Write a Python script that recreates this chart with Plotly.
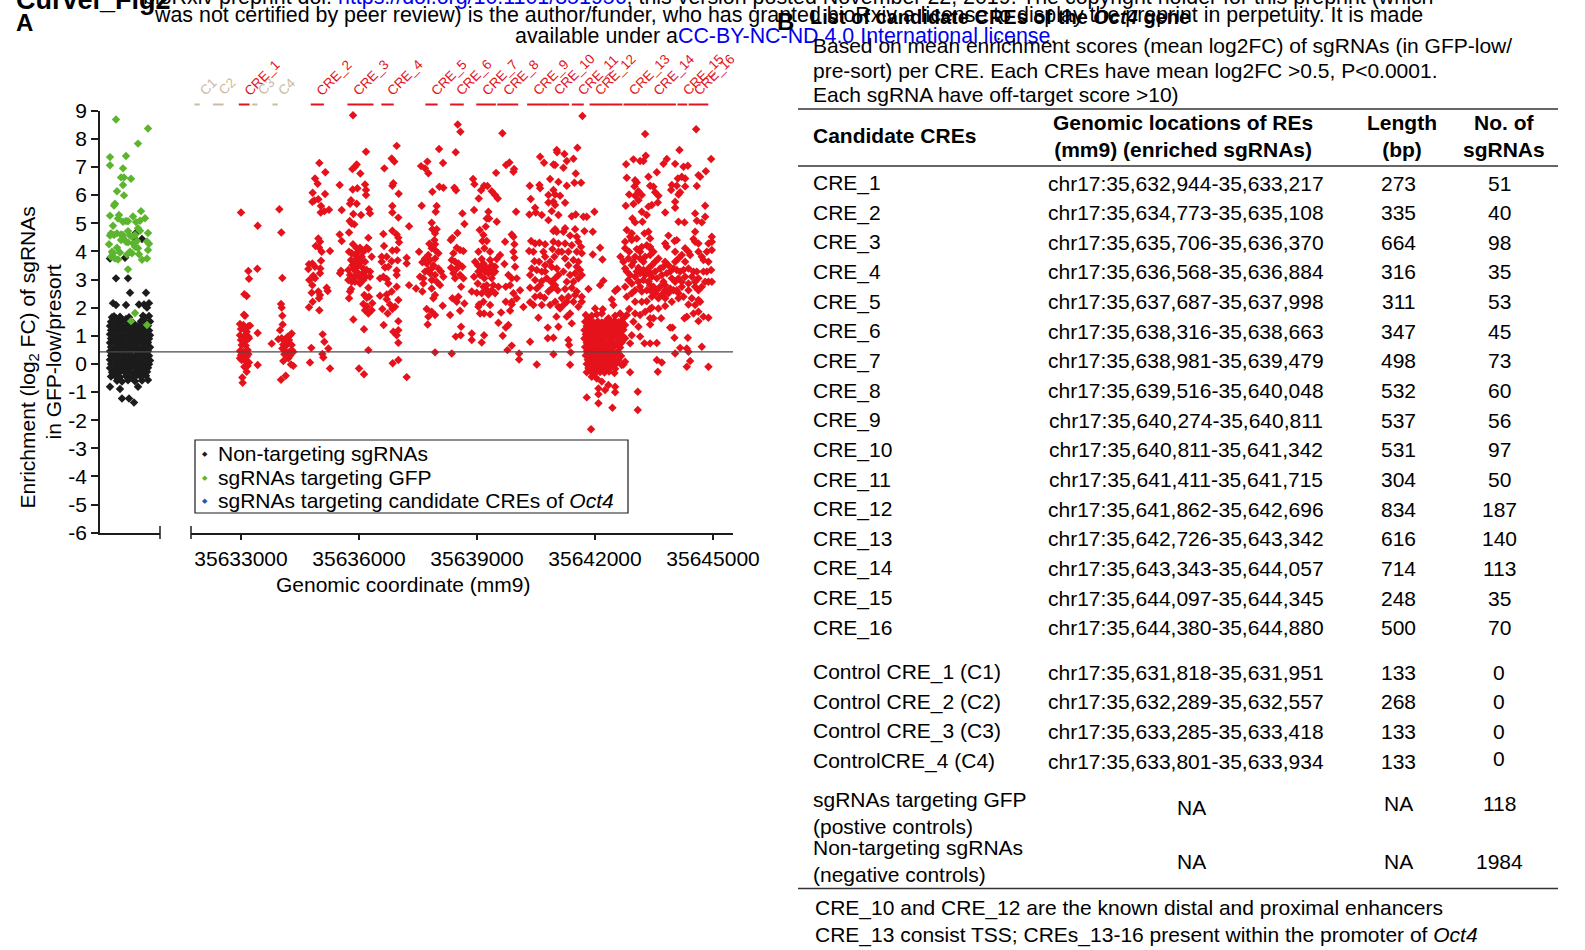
import plotly.graph_objects as go

# ------------------------------------------------------------------ data
ytick_vals = [-6, -5, -4, -3, -2, -1, 0, 1, 2, 3, 4, 5, 6, 7, 8, 9]
xtick_vals = [35633000, 35636000, 35639000, 35642000, 35645000]
genomic_range = [35631729, 35645508]
baseline_fc = 0.43

cre_names = ["CRE_1", "CRE_2", "CRE_3", "CRE_4", "CRE_5", "CRE_6", "CRE_7", "CRE_8",
             "CRE_9", "CRE_10", "CRE_11", "CRE_12", "CRE_13", "CRE_14", "CRE_15", "CRE_16"]
cre_locs = ["chr17:35,632,944-35,633,217", "chr17:35,634,773-35,635,108",
            "chr17:35,635,706-35,636,370", "chr17:35,636,568-35,636,884",
            "chr17:35,637,687-35,637,998", "chr17:35,638,316-35,638,663",
            "chr17:35,638,981-35,639,479", "chr17:35,639,516-35,640,048",
            "chr17:35,640,274-35,640,811", "chr17:35,640,811-35,641,342",
            "chr17:35,641,411-35,641,715", "chr17:35,641,862-35,642,696",
            "chr17:35,642,726-35,643,342", "chr17:35,643,343-35,644,057",
            "chr17:35,644,097-35,644,345", "chr17:35,644,380-35,644,880"]
cre_lengths = [273, 335, 664, 316, 311, 347, 498, 532, 537, 531, 304, 834, 616, 714, 248, 500]
cre_counts = [51, 40, 98, 35, 53, 45, 73, 60, 56, 97, 50, 187, 140, 113, 35, 70]

ctrl_names = ["Control CRE_1 (C1)", "Control CRE_2 (C2)", "Control CRE_3 (C3)", "ControlCRE_4 (C4)"]
ctrl_short = ["C1", "C2", "C3", "C4"]
ctrl_locs = ["chr17:35,631,818-35,631,951", "chr17:35,632,289-35,632,557",
             "chr17:35,633,285-35,633,418", "chr17:35,633,801-35,633,934"]
ctrl_lengths = [133, 268, 133, 133]
ctrl_counts = [0, 0, 0, 0]

other_names = ["sgRNAs targeting GFP<br>(postive controls)", "Non-targeting sgRNAs<br>(negative controls)"]
other_locs = ["NA", "NA"]
other_lengths = ["NA", "NA"]
other_counts = [118, 1984]

# control strip: (jitter position, log2FC)
gfp_pts = [(16, 8.69), (48, 8.37), (38, 7.83), (10, 7.35), (26, 7.39), (10, 7.06), (23, 6.95),
           (21, 6.63), (24, 6.63), (31, 6.58), (23, 6.36), (17, 6.14), (24, 5.99), (15, 5.69),
           (14, 5.63), (41, 5.43), (10, 5.27), (19, 5.29), (33, 5.24), (45, 5.18), (18, 5.17),
           (26, 5.08), (28, 5.07), (23, 5.05), (13, 4.91), (40, 5.09), (36, 5.04), (11, 4.64),
           (17, 4.64), (28, 4.72), (38, 4.82), (40, 4.73), (30, 4.56), (48, 4.65), (10, 4.56),
           (14, 4.58), (21, 4.60), (23, 4.48), (32, 4.52), (9, 4.25), (21, 4.40), (26, 4.34),
           (28, 4.32), (33, 4.28), (37, 4.37), (47, 4.35), (49, 4.27), (17, 4.13), (12, 3.99),
           (20, 3.96), (30, 3.99), (32, 3.93), (35, 4.16), (38, 4.11), (48, 4.05), (11, 3.81),
           (15, 3.75), (27, 3.89), (39, 3.90), (18, 3.71), (42, 3.70), (47, 3.75), (28, 3.36),
           (35, 1.81), (31, 1.52), (47, 1.38), (13, 3.93), (23, 4.58), (35, 4.58)]

nontarget_pts = [
    (36, 4.66), (42, 4.44), (34, 4.48), (10, 3.75), (25, 3.77), (16, 3.04), (28, 3.04),
    (30, 2.53), (46, 2.53), (13, 2.16), (16, 2.09), (26, 2.09), (39, 2.11), (44, 2.11),
    (49, 2.16), (47, 2.00), (43, 1.71), (29, 1.66), (14, 1.69), (10, -0.81), (20, -0.89),
    (22, -1.23), (29, -1.23), (34, -1.37), (38, -0.81), (48, -0.57),
    (12, 1.66), (16, 1.62), (20, 1.68), (26, 1.60), (45, 1.64), (49, 1.70),
    (11, 1.50), (15, 1.52), (19, 1.47), (23, 1.53), (27, 1.49), (33, 1.46), (41, 1.52), (46, 1.48), (50, 1.51),
    (10, 1.35), (14, 1.38), (18, 1.33), (22, 1.36), (26, 1.32), (30, 1.37), (35, 1.34), (39, 1.38), (44, 1.33), (48, 1.36),
    (11, 1.20), (15, 1.17), (19, 1.22), (24, 1.19), (28, 1.23), (32, 1.18), (37, 1.21), (41, 1.17), (45, 1.22), (49, 1.19),
    (10, 1.05), (14, 1.08), (18, 1.03), (22, 1.06), (26, 1.02), (31, 1.07), (35, 1.04), (39, 1.08), (43, 1.03), (47, 1.06), (50, 1.02),
    (11, 0.90), (15, 0.87), (20, 0.92), (24, 0.89), (28, 0.93), (33, 0.88), (37, 0.91), (41, 0.87), (45, 0.92), (49, 0.89),
    (10, 0.75), (14, 0.78), (18, 0.73), (22, 0.76), (27, 0.72), (31, 0.77), (35, 0.74), (40, 0.78), (44, 0.73), (48, 0.76),
    (11, 0.60), (16, 0.57), (20, 0.62), (24, 0.59), (29, 0.63), (33, 0.58), (37, 0.61), (42, 0.57), (46, 0.62), (50, 0.59),
    (10, 0.45), (14, 0.48), (18, 0.43), (23, 0.46), (27, 0.42), (31, 0.47), (36, 0.44), (40, 0.48), (44, 0.43), (48, 0.46),
    (11, 0.30), (15, 0.27), (19, 0.32), (24, 0.29), (28, 0.33), (32, 0.28), (37, 0.31), (41, 0.27), (45, 0.32), (49, 0.29),
    (10, 0.15), (14, 0.18), (18, 0.13), (22, 0.16), (26, 0.12), (31, 0.17), (35, 0.14), (39, 0.18), (43, 0.13), (47, 0.16), (50, 0.12),
    (11, 0.00), (15, -0.03), (20, 0.02), (24, -0.01), (28, 0.03), (33, -0.02), (37, 0.01), (41, -0.03), (45, 0.02), (49, -0.01),
    (10, -0.15), (14, -0.12), (18, -0.17), (22, -0.14), (27, -0.18), (31, -0.13), (36, -0.16), (40, -0.12), (44, -0.17), (48, -0.14),
    (12, -0.30), (16, -0.33), (20, -0.28), (25, -0.31), (29, -0.27), (34, -0.32), (38, -0.29), (42, -0.33), (47, -0.28),
    (11, -0.45), (15, -0.42), (20, -0.47), (26, -0.44), (31, -0.48), (36, -0.43), (41, -0.46), (46, -0.42),
    (17, -0.60), (22, -0.63), (28, -0.58), (35, -0.62), (42, -0.59)]

# CRE-targeting sgRNAs: (genomic coordinate, log2FC), grouped by region
pts_cre1 = [(35633000, 5.38), (35633424, 4.91), (35633186, 3.30), (35633415, 3.38), (35633203, 3.03),
            (35633085, 2.48), (35633144, 2.41), (35633076, 1.75), (35633102, 1.71), (35632974, 1.42),
            (35633059, 1.38), (35633186, 1.34), (35633229, 1.36), (35633000, 1.24), (35633102, 1.20),
            (35633144, 1.14), (35632974, 1.02), (35633085, 0.99), (35633186, 0.97), (35633424, 1.10),
            (35633000, 0.85), (35633102, 0.79), (35633203, 0.91), (35633017, 0.67), (35633119, 0.65),
            (35632974, 0.46), (35633059, 0.43), (35633169, 0.49), (35633000, 0.31), (35633085, 0.25),
            (35633186, 0.34), (35633017, 0.14), (35633119, 0.10), (35633203, 0.05), (35633085, -0.10),
            (35633169, -0.07), (35633424, -0.04), (35633144, -0.28), (35633034, -0.48), (35633042, -0.67),
            (35632974, 0.20), (35633144, 0.25)]
pts_c4 = [(35633975, 5.50), (35634025, 4.67), (35634051, 3.05), (35634017, 2.13), (35634034, 2.00),
          (35634051, 1.71), (35634059, 1.40), (35633992, 1.20), (35634288, 1.08), (35634246, 1.02),
          (35634186, 0.97), (35634034, 0.91), (35633949, 0.88), (35634119, 0.85), (35634220, 0.85),
          (35634076, 0.69), (35634161, 0.67), (35634288, 0.67), (35633780, 0.72), (35634288, 0.49),
          (35634119, 0.47), (35634203, 0.41), (35634331, 0.43), (35634102, 0.34), (35634246, 0.29),
          (35634076, 0.10), (35634271, -0.02), (35634331, -0.07), (35634136, -0.42), (35634017, -0.56),
          (35634203, 0.20), (35634051, 0.55)]
pts_cre2 = [(35634992, 7.14), (35634882, 6.59), (35635144, 6.81), (35634949, 6.40), (35634822, 6.08),
            (35635136, 6.04), (35634814, 5.76), (35634865, 5.81), (35634966, 5.85), (35635034, 5.61),
            (35635026, 5.38), (35635119, 5.43), (35635238, 5.48), (35634966, 4.46), (35635009, 4.34),
            (35634899, 4.19), (35634983, 4.14), (35635051, 3.99), (35635263, 4.01), (35635034, 3.67),
            (35634729, 3.54), (35634814, 3.57), (35634712, 3.37), (35634882, 3.45), (35635017, 3.39),
            (35635009, 3.22), (35634839, 3.13), (35634737, 2.98), (35634882, 3.04), (35634814, 2.80),
            (35634797, 2.53), (35634966, 2.57), (35635009, 2.45), (35635178, 2.71), (35635204, 2.59),
            (35634983, 2.33), (35634822, 2.21), (35634729, 2.01), (35634992, 1.91), (35635076, 1.05),
            (35635119, 0.79), (35634788, 0.57), (35635221, 0.55), (35635068, 0.35), (35635093, 0.23),
            (35634754, 0.05), (35635263, -0.16)]
pts_cre3 = [(35635848, 8.84), (35636178, 7.54), (35635941, 7.09), (35635899, 7.01), (35635831, 6.93),
            (35636034, 6.77), (35635509, 6.36), (35636153, 6.38), (35635839, 6.20), (35635958, 6.24),
            (35636178, 6.18), (35636178, 6.00), (35635797, 5.82), (35635771, 5.69), (35635941, 5.69),
            (35635560, 5.47), (35636255, 5.50), (35636280, 5.35), (35635856, 5.33), (35636051, 5.29),
            (35635763, 5.08), (35635814, 4.99), (35635882, 4.96), (35635746, 4.67), (35635509, 4.60),
            (35635560, 4.37), (35636238, 4.48), (35635848, 4.25), (35635746, 3.99), (35635814, 3.93),
            (35635941, 4.11), (35636026, 4.13), (35636110, 3.99), (35636195, 4.13), (35636238, 4.08),
            (35636322, 3.81), (35635797, 3.69), (35635882, 3.63), (35635966, 3.75), (35636068, 3.81),
            (35636153, 3.63), (35635543, 3.31), (35635729, 3.34), (35635856, 3.39), (35635941, 3.45),
            (35636000, 3.51), (35636110, 3.39), (35636195, 3.34), (35636280, 3.28), (35635517, 3.22),
            (35635771, 3.16), (35635882, 3.10), (35635983, 3.22), (35636068, 3.16), (35636170, 3.10),
            (35636280, 3.10), (35635729, 2.98), (35635899, 2.92), (35636026, 2.86), (35636238, 2.71),
            (35635797, 2.66), (35635771, 2.57), (35635746, 2.33), (35636136, 2.45), (35636195, 2.35),
            (35636255, 2.39), (35636110, 2.13), (35636204, 2.04), (35636339, 2.16), (35636153, 1.91),
            (35636238, 1.79), (35636322, 1.91), (35635856, 1.58), (35636127, 1.23), (35636238, 0.49),
            (35636000, -0.16), (35636127, -0.37), (35635899, 3.87), (35635983, 3.99), (35636051, 3.63),
            (35635831, 3.51), (35635916, 3.28), (35636136, 3.28), (35636026, 3.04), (35636110, 2.98),
            (35635814, 2.92)]
pts_cre4 = [(35636958, 7.75), (35636831, 7.30), (35636899, 7.19), (35636644, 6.95), (35636873, 6.42),
            (35636848, 6.33), (35637009, 6.05), (35636848, 5.61), (35636848, 5.38), (35637000, 5.20),
            (35637272, 4.89), (35636848, 4.73), (35636958, 4.60), (35637000, 4.48), (35636619, 4.62),
            (35637017, 4.32), (35636636, 4.19), (35636848, 4.03), (35636958, 4.05), (35636577, 3.81),
            (35636704, 3.81), (35636831, 3.65), (35636984, 3.68), (35637212, 3.77), (35637212, 3.57),
            (35636577, 3.63), (35636661, 3.43), (35636746, 3.45), (35636958, 3.32), (35636534, 3.04),
            (35636619, 3.10), (35636704, 3.02), (35636746, 2.86), (35636958, 3.16), (35637272, 2.80),
            (35636958, 2.74), (35636534, 2.42), (35636704, 2.47), (35636831, 2.57), (35636704, 2.30),
            (35637000, 2.27), (35636594, 1.95), (35636789, 2.11), (35636848, 1.95), (35636729, 1.79),
            (35636916, 2.03), (35637000, 1.52), (35636627, 1.38), (35636873, 1.14), (35637000, 1.20),
            (35636958, 1.02), (35637000, 0.75), (35636856, 0.02), (35637000, 0.14), (35637212, -0.47)]
pts_cre5 = [(35638035, 7.64), (35638136, 7.14), (35637577, 7.03), (35637679, 6.95), (35637738, 7.19),
            (35637763, 6.78), (35637865, 6.12), (35638043, 6.30), (35638145, 6.26), (35637594, 5.62),
            (35637975, 5.61), (35637950, 5.41), (35637848, 5.02), (35637865, 4.79), (35637975, 4.79),
            (35637933, 4.64), (35637789, 4.27), (35637916, 4.40), (35637933, 4.25), (35637526, 3.99),
            (35637848, 4.11), (35637933, 4.05), (35637679, 3.75), (35637806, 3.69), (35637933, 3.75),
            (35637611, 3.61), (35637721, 3.57), (35637890, 3.51), (35637848, 3.39), (35637763, 3.34),
            (35637679, 3.28), (35637806, 3.22), (35637551, 3.10), (35637636, 3.04), (35637933, 3.16),
            (35638085, 3.28), (35638145, 3.10), (35637848, 2.98), (35637975, 2.92), (35637450, 2.68),
            (35637611, 2.57), (35637848, 2.68), (35637933, 2.45), (35637890, 2.33), (35637721, 1.95),
            (35637848, 1.85), (35637763, 1.68), (35637933, 1.74), (35637746, 1.40), (35638128, 2.07),
            (35637933, 0.41), (35638018, 3.93), (35637763, 3.87), (35638018, 3.39), (35637636, 2.86),
            (35638060, 2.80)]
pts_cre6 = [(35638510, 8.51), (35638578, 8.25), (35638459, 7.52), (35638425, 6.26), (35638468, 6.17),
            (35638629, 5.35), (35638680, 4.97), (35638502, 4.65), (35638374, 4.48), (35638332, 4.40),
            (35638485, 4.13), (35638569, 4.05), (35638654, 4.01), (35638400, 3.93), (35638358, 3.69),
            (35638442, 3.63), (35638527, 3.57), (35638341, 3.42), (35638485, 3.39), (35638629, 3.45),
            (35638400, 3.22), (35638569, 3.16), (35638654, 3.04), (35638442, 3.04), (35638595, 2.74),
            (35638374, 2.33), (35638527, 2.39), (35638485, 2.21), (35638680, 2.15), (35638569, 1.89),
            (35638315, 1.74), (35638595, 1.32), (35638586, 1.02), (35638459, 0.97), (35638358, 0.37)]
pts_cre7 = [(35638900, 6.57), (35638934, 6.39), (35639180, 6.33), (35639265, 6.32), (35639103, 6.17),
            (35639375, 6.14), (35639459, 6.00), (35639527, 5.88), (35639044, 5.88), (35638925, 5.47),
            (35639290, 5.41), (35639248, 5.17), (35639307, 5.17), (35639502, 5.05), (35639069, 4.76),
            (35639222, 4.88), (35639163, 4.58), (35639137, 4.37), (35639248, 4.37), (35639036, 3.99),
            (35639188, 4.11), (35639332, 3.99), (35639120, 3.73), (35639332, 3.69), (35639502, 3.73),
            (35639587, 3.87), (35639019, 3.51), (35639120, 3.39), (35639248, 3.42), (35639375, 3.51),
            (35639290, 3.22), (35639459, 3.28), (35639078, 3.16), (35639188, 3.04), (35639375, 3.04),
            (35638925, 3.10), (35639019, 2.86), (35639248, 2.80), (35639417, 2.80), (35639544, 2.74),
            (35638866, 2.57), (35638993, 2.53), (35639120, 2.51), (35639290, 2.47), (35639459, 2.51),
            (35639052, 2.11), (35639163, 2.21), (35639332, 2.09), (35639078, 1.79), (35639180, 1.79),
            (35639332, 1.76), (35639036, 2.03), (35639544, 1.46), (35638866, 1.08), (35638866, 0.85),
            (35639120, 0.76), (35639180, 1.02), (35639205, 3.28), (35639332, 3.34), (35639163, 3.57),
            (35639417, 3.22), (35639248, 2.62), (35639036, 3.28), (35639459, 3.45), (35639163, 2.74),
            (35639375, 2.62), (35638951, 3.63)]
pts_cre8 = [(35639646, 8.20), (35639485, 6.79), (35639739, 7.07), (35639824, 7.16), (35639943, 6.93),
            (35639926, 6.83), (35639993, 5.41), (35639714, 4.34), (35639883, 4.60), (35639926, 4.52),
            (35639951, 4.25), (35639926, 3.99), (35639951, 3.77), (35639697, 3.55), (35639968, 3.45),
            (35639798, 3.16), (35639883, 3.04), (35640010, 3.04), (35639731, 2.74), (35639841, 2.80),
            (35640095, 2.62), (35639926, 2.51), (35640010, 2.33), (35639731, 2.21), (35639883, 2.21),
            (35639883, 2.11), (35640180, 2.02), (35639841, 1.89), (35639612, 1.83), (35639798, 1.38),
            (35639731, 1.29), (35639654, 1.00), (35639883, 0.65), (35639773, 0.49), (35640070, 0.37),
            (35640070, 0.16)]
pts_cre9 = [(35640604, 7.36), (35640705, 7.15), (35640943, 7.09), (35640985, 7.07), (35641036, 7.52),
            (35641027, 7.60), (35640341, 6.33), (35640587, 6.36), (35640604, 6.24), (35640858, 6.57),
            (35640943, 6.18), (35641070, 6.47), (35640816, 6.00), (35640985, 6.02), (35640943, 5.76),
            (35640816, 5.74), (35640366, 5.86), (35640477, 5.55), (35640494, 5.38), (35640332, 5.31),
            (35640646, 5.29), (35640900, 5.43), (35640985, 5.65), (35640816, 5.11), (35641070, 5.29),
            (35640985, 4.79), (35641027, 4.70), (35640943, 4.72), (35640375, 4.37), (35640477, 4.28),
            (35640587, 4.31), (35640731, 4.25), (35640943, 4.34), (35641070, 4.28), (35640324, 4.01),
            (35640460, 3.65), (35640578, 3.63), (35640731, 3.81), (35640917, 4.08), (35640968, 3.81),
            (35641070, 3.99), (35640392, 3.39), (35640519, 3.34), (35640646, 3.28), (35640349, 3.16),
            (35640731, 3.51), (35640900, 3.44), (35640773, 3.04), (35640883, 2.92), (35640985, 3.04),
            (35641070, 3.16), (35640477, 2.98), (35640646, 2.94), (35640985, 2.80), (35641053, 2.62),
            (35640519, 2.68), (35640349, 2.71), (35640604, 2.42), (35640714, 2.35), (35640900, 2.68),
            (35640349, 2.19), (35640434, 2.09), (35640646, 2.09), (35640858, 2.09), (35640985, 2.21),
            (35641070, 2.03), (35640561, 1.64), (35641019, 1.68), (35640799, 1.29), (35640799, 0.91),
            (35640943, 0.93), (35640349, 0.79), (35640519, -0.02), (35640943, 0.34), (35641070, 1.32),
            (35640434, 3.99), (35640731, 3.28), (35640858, 3.63), (35640604, 2.80), (35640816, 2.57),
            (35640477, 2.39), (35641027, 3.39), (35640688, 3.99)]
pts_cre10 = [(35641680, 8.81), (35641553, 7.68), (35641222, 7.46), (35641451, 7.29), (35641282, 7.21),
             (35641197, 6.97), (35641510, 6.77), (35641477, 6.44), (35641646, 6.44), (35641282, 6.33),
             (35641112, 5.98), (35641239, 5.73), (35641510, 5.31), (35641409, 5.25), (35641705, 5.23),
             (35641790, 5.23), (35641985, 5.41), (35641239, 4.82), (35641197, 4.70), (35641366, 4.56),
             (35641494, 4.79), (35641536, 4.52), (35641731, 4.72), (35641943, 4.70), (35641239, 4.28),
             (35641578, 4.34), (35641646, 4.16), (35642129, 4.13), (35641324, 3.99), (35641536, 3.99),
             (35641663, 3.93), (35641943, 3.89), (35642189, 3.71), (35641239, 3.75), (35641451, 3.69),
             (35641578, 3.63), (35641324, 3.51), (35641536, 3.45), (35641621, 3.34), (35641197, 3.28),
             (35641366, 3.16), (35641494, 3.22), (35641578, 3.04), (35641282, 2.92), (35641239, 2.66),
             (35641409, 2.71), (35641536, 2.57), (35641833, 2.66), (35642129, 2.80), (35642214, 2.96),
             (35641155, 2.33), (35641324, 2.39), (35641494, 2.45), (35641663, 2.39), (35641197, 2.09),
             (35641451, 2.21), (35641663, 2.21), (35641112, 1.97), (35641366, 1.79), (35641409, 1.44),
             (35641324, 0.85), (35641341, 0.67), (35641383, 0.41), (35641366, -0.03), (35641282, 1.68),
             (35641409, 4.22), (35641155, 3.99), (35641451, 2.92), (35641663, 3.16), (35641282, 2.21),
             (35641578, 2.03)]
pts_cre12_low = [
    (35642570, 2.66), (35642511, 2.59), (35642426, 2.29), (35642468, 2.09), (35642197, 1.94),
    (35642002, 1.97), (35641765, 1.74), (35641833, 1.62), (35641917, 1.71), (35642045, 1.76),
    (35642172, 1.79), (35642341, 1.62), (35642511, 1.71), (35642638, 1.79), (35642723, 1.62),
    (35642807, 1.74),
    (35641748, 1.50), (35641850, 1.53), (35641960, 1.48), (35642070, 1.51), (35642172, 1.47),
    (35642273, 1.52), (35642384, 1.49), (35642494, 1.53), (35642595, 1.48), (35642680, 1.51),
    (35641790, 1.35), (35641900, 1.33), (35642002, 1.37), (35642112, 1.34), (35642214, 1.36),
    (35642324, 1.32), (35642426, 1.37), (35642536, 1.34), (35642638, 1.36),
    (35641731, 1.20), (35641833, 1.22), (35641934, 1.18), (35642045, 1.21), (35642155, 1.17),
    (35642256, 1.22), (35642358, 1.19), (35642468, 1.23), (35642579, 1.18), (35642723, 1.21),
    (35641765, 1.05), (35641875, 1.03), (35641985, 1.07), (35642087, 1.04), (35642189, 1.06),
    (35642299, 1.02), (35642409, 1.07), (35642511, 1.04), (35642638, 1.06),
    (35641731, 0.90), (35641833, 0.92), (35641934, 0.88), (35642045, 0.91), (35642155, 0.87),
    (35642256, 0.92), (35642358, 0.89), (35642468, 0.93), (35642595, 0.88), (35642765, 0.91),
    (35641790, 0.75), (35641900, 0.73), (35642002, 0.77), (35642112, 0.74), (35642214, 0.76),
    (35642324, 0.72), (35642426, 0.77), (35642553, 0.74), (35642680, 0.76),
    (35641748, 0.60), (35641850, 0.62), (35641960, 0.58), (35642070, 0.61), (35642172, 0.57),
    (35642273, 0.62), (35642384, 0.59), (35642494, 0.63), (35642638, 0.58),
    (35641790, 0.45), (35641900, 0.43), (35642002, 0.47), (35642112, 0.44), (35642214, 0.46),
    (35642324, 0.42), (35642443, 0.47), (35642579, 0.44),
    (35641765, 0.30), (35641875, 0.32), (35641985, 0.28), (35642087, 0.31), (35642189, 0.27),
    (35642299, 0.32), (35642409, 0.29), (35642528, 0.33), (35642663, 0.28),
    (35641816, 0.15), (35641917, 0.13), (35642019, 0.17), (35642129, 0.14), (35642240, 0.16),
    (35642341, 0.12), (35642468, 0.17), (35642595, 0.14),
    (35641790, 0.00), (35641900, 0.02), (35642002, -0.02), (35642104, 0.01), (35642214, -0.03),
    (35642324, 0.02), (35642426, -0.01), (35642553, 0.03), (35642723, -0.02),
    (35641833, -0.15), (35641934, -0.13), (35642045, -0.17), (35642155, -0.14), (35642256, -0.16),
    (35642384, -0.12), (35642511, -0.17),
    (35641790, -0.30), (35641900, -0.28), (35642002, -0.32), (35642129, -0.29), (35642240, -0.31),
    (35642358, -0.27), (35642494, -0.32), (35642892, -0.30),
    (35641917, -0.46), (35642045, -0.52), (35642172, -0.63), (35642341, -0.75), (35642511, -0.81),
    (35642087, -0.87), (35642256, -0.93), (35641790, -1.19), (35642087, -1.08), (35642087, -1.40),
    (35642511, -1.01), (35642443, -1.56), (35641900, -2.32), (35642680, -0.04), (35642765, 0.08),
    (35642384, 0.20), (35643087, -0.99), (35643087, -1.64)]
pts_cre12_13 = [(35643274, 8.17), (35642790, 7.10), (35642977, 7.27), (35643146, 7.21), (35643231, 7.21),
                (35643290, 7.40), (35643358, 6.65), (35642807, 6.62), (35643019, 6.53), (35643061, 6.45),
                (35643002, 6.31), (35643104, 6.14), (35642867, 6.02), (35643019, 5.98), (35643189, 6.00),
                (35642782, 5.62), (35642977, 5.68), (35643104, 5.82), (35643189, 5.41), (35643316, 5.29),
                (35643358, 5.59), (35642951, 5.17), (35643019, 5.03), (35643206, 5.05), (35642934, 4.64),
                (35642807, 4.76), (35643257, 4.64), (35643358, 4.70), (35642934, 4.40), (35643061, 4.46),
                (35642765, 4.34), (35642765, 4.11), (35642867, 3.99), (35643061, 4.08), (35643189, 4.16),
                (35643316, 4.22), (35642646, 3.81), (35642850, 3.75), (35643019, 3.81), (35643146, 3.75),
                (35643274, 3.81), (35643401, 3.87), (35642765, 3.39), (35642934, 3.51), (35643104, 3.42),
                (35643231, 3.34), (35643358, 3.39), (35642892, 3.16), (35643019, 3.10), (35643146, 3.22),
                (35643274, 3.16), (35643401, 3.22), (35642934, 2.86), (35643104, 2.92), (35643231, 2.98),
                (35643358, 2.92), (35643019, 2.62), (35643189, 2.57), (35643316, 2.62), (35642807, 2.39),
                (35643019, 2.21), (35643189, 2.21), (35643316, 2.23), (35642867, 1.95), (35643019, 1.79),
                (35643146, 1.74), (35643274, 1.85), (35643401, 1.95), (35642977, 1.50), (35643104, 1.32),
                (35642934, 1.02), (35643146, 0.97), (35642892, 0.73), (35643257, 0.73), (35642765, 1.38),
                (35642680, 1.02), (35643401, 1.62), (35642723, 3.63), (35642977, 3.63), (35643231, 3.63),
                (35642807, 3.28), (35643061, 3.28), (35643316, 3.28), (35642850, 2.98), (35643146, 2.74),
                (35642765, 2.74), (35643401, 2.80), (35642892, 4.52), (35643146, 3.99), (35643401, 4.16),
                (35642934, 2.51)]
pts_cre14_16 = [
    (35644571, 8.34), (35644147, 7.60), (35644952, 7.28), (35643825, 7.28), (35643740, 7.11),
    (35644037, 7.11), (35644249, 7.01), (35644359, 7.04), (35643571, 6.81), (35644105, 6.59),
    (35644206, 6.65), (35644291, 6.59), (35644817, 6.85), (35644630, 6.71), (35644673, 6.65),
    (35643401, 6.33), (35643486, 6.30), (35643952, 6.36), (35644079, 6.33), (35644291, 6.31),
    (35643935, 6.18), (35644164, 6.10), (35644122, 6.02), (35644588, 6.32), (35643613, 5.98),
    (35643528, 6.10), (35643444, 5.65), (35643596, 5.74), (35644037, 5.76), (35644037, 5.55),
    (35644800, 5.62), (35643783, 5.38), (35644545, 5.35), (35644122, 5.05), (35644274, 5.03),
    (35644588, 5.09), (35644715, 5.03), (35644800, 5.23), (35643401, 4.46), (35644545, 4.70),
    (35644969, 4.52), (35643867, 4.56), (35643783, 4.28), (35643825, 4.16), (35644020, 4.37),
    (35644079, 4.40), (35644503, 4.44), (35644545, 4.34), (35644291, 4.11), (35644969, 4.34),
    (35644969, 4.05), (35643401, 4.11), (35643486, 3.99), (35643613, 3.75), (35644122, 3.75),
    (35644206, 3.87), (35644418, 3.87), (35644630, 3.99), (35644715, 3.81), (35644757, 3.69),
    (35644884, 3.63), (35643444, 3.51), (35643655, 3.39), (35643740, 3.45), (35643867, 3.51),
    (35643994, 3.39), (35644079, 3.34), (35644249, 3.34), (35644376, 3.39), (35644588, 3.28),
    (35644757, 3.28), (35644952, 3.34), (35643444, 3.10), (35643571, 3.04), (35643698, 3.16),
    (35643825, 3.22), (35643952, 3.04), (35644122, 3.04), (35644291, 3.10), (35644461, 3.10),
    (35644630, 3.04), (35644800, 2.92), (35644969, 2.92), (35643486, 2.74), (35643655, 2.74),
    (35643783, 2.80), (35643910, 2.68), (35644079, 2.62), (35644206, 2.74), (35644376, 2.86),
    (35644545, 2.74), (35644715, 2.74), (35643528, 2.51), (35643698, 2.47), (35643867, 2.51),
    (35644122, 2.51), (35644249, 2.39), (35644630, 2.27), (35643444, 2.39), (35643613, 2.33),
    (35643952, 2.21), (35644376, 2.11), (35644545, 2.09), (35644673, 2.21), (35644503, 1.79),
    (35644630, 1.85), (35644757, 1.68), (35644884, 1.64), (35643444, 2.00), (35643613, 1.97),
    (35643783, 2.06), (35644334, 1.68), (35644274, 1.62), (35644630, 1.52), (35643486, 1.62),
    (35643681, 1.62), (35643401, 1.40), (35643910, 1.29), (35643969, 1.29), (35644020, 0.93),
    (35644359, 0.93), (35644715, 0.61), (35643401, 0.73), (35643571, 0.74), (35644164, 0.57),
    (35644334, 0.55), (35644037, 0.37), (35644418, 0.10), (35643571, 0.14), (35643698, 0.05),
    (35643596, -0.28), (35644334, -0.10), (35644884, -0.10), (35644376, 0.43),
    (35643528, 3.63), (35643783, 3.63), (35644037, 3.63), (35644291, 3.63), (35643359, 3.28),
    (35643528, 3.28), (35643910, 3.28), (35644164, 3.28), (35644503, 3.28), (35644842, 3.28),
    (35643359, 2.92), (35643740, 2.92), (35644037, 2.92), (35644206, 2.92), (35644545, 2.92),
    (35644884, 2.92), (35643401, 2.62), (35643571, 2.62), (35643783, 2.62), (35643994, 2.62),
    (35644376, 2.62), (35644630, 2.62), (35643783, 2.33), (35644122, 2.33), (35644461, 2.33),
    (35644037, 3.99), (35644376, 3.99), (35644842, 3.99), (35644630, 4.28), (35644884, 4.28)]

cre_point_groups = [pts_cre1, pts_c4, pts_cre2, pts_cre3, pts_cre4, pts_cre5, pts_cre6, pts_cre7,
                    pts_cre8, pts_cre9, pts_cre10, pts_cre12_low, pts_cre12_13, pts_cre14_16]

legend_labels = ["Non-targeting sgRNAs", "sgRNAs targeting GFP",
                 "sgRNAs targeting candidate CREs of <i>Oct4</i>"]

# ------------------------------------------------------------------ style
W, H = 1585, 950
RED = "#e5121c"
GREEN = "#5cb52e"
BLACK = "#1c1c1c"
BLUE = "#3553a6"
TAN = "#cbbb9f"
FONT = "Liberation Sans, Arial, sans-serif"


def fx(px):
    return px / W


def fy(py):
    return 1 - py / H


def parse_loc(loc):
    a, b = loc.split(":")[1].split("-")
    return int(a.replace(",", "")), int(b.replace(",", ""))


fig = go.Figure()

mk = dict(symbol="diamond", size=6.5, line=dict(width=0))
fig.add_trace(go.Scatter(x=[p[0] for p in nontarget_pts], y=[p[1] for p in nontarget_pts],
                         mode="markers", marker=dict(color=BLACK, **mk), xaxis="x", yaxis="y",
                         showlegend=False, hoverinfo="skip"))
fig.add_trace(go.Scatter(x=[p[0] for p in gfp_pts], y=[p[1] for p in gfp_pts],
                         mode="markers", marker=dict(color=GREEN, **mk), xaxis="x", yaxis="y",
                         showlegend=False, hoverinfo="skip"))
cre_all = [p for g in cre_point_groups for p in g]
fig.add_trace(go.Scatter(x=[p[0] for p in cre_all], y=[p[1] for p in cre_all],
                         mode="markers", marker=dict(color=RED, **mk), xaxis="x2", yaxis="y",
                         showlegend=False, hoverinfo="skip"))

shapes = []
annotations = []


def note(x, y, s, xa="left", ya="middle", size=21, color="black", angle=0, xref="paper"):
    annotations.append(dict(x=x, y=y, xref=xref, yref="paper", text=s, xanchor=xa, yanchor=ya,
                            textangle=angle, showarrow=False, align="center" if xa == "center" else "left",
                            font=dict(size=size, color=color, family=FONT)))


# baseline
shapes.append(dict(type="line", xref="paper", yref="y", x0=fx(100), x1=fx(733),
                   y0=baseline_fc, y1=baseline_fc, line=dict(color="#4a4a4a", width=1.3)))
# end ticks of the two x axes
shapes.append(dict(type="line", xref="paper", yref="paper", x0=fx(160), x1=fx(160),
                   y0=fy(526), y1=fy(539), line=dict(color=BLACK, width=1.5)))
shapes.append(dict(type="line", xref="paper", yref="paper", x0=fx(191), x1=fx(191),
                   y0=fy(526), y1=fy(539), line=dict(color=BLACK, width=1.5)))

# CRE segments + labels
seg_y = fy(104.5)
for names, locs, col in [(ctrl_short, ctrl_locs, TAN), (cre_names, cre_locs, RED)]:
    for name, loc in zip(names, locs):
        s, e = parse_loc(loc)
        shapes.append(dict(type="line", xref="x2", yref="paper", x0=s, x1=e, y0=seg_y, y1=seg_y,
                           line=dict(color=col, width=2)))
        note(s, fy(101), name, xa="left", ya="bottom", size=13.5, color=col, angle=-45, xref="x2")

# legend box
shapes.append(dict(type="rect", xref="paper", yref="paper", x0=fx(195), x1=fx(628),
                   y0=fy(513), y1=fy(440), line=dict(color=BLACK, width=1.2)))
for lab, col, yy in zip(legend_labels, [BLACK, GREEN, BLUE], [453, 477, 500]):
    note(fx(205), fy(yy), "\u25c6", xa="center", size=7, color=col)
    note(fx(216), fy(yy), lab, xa="left", size=21)

# axis titles
note(fx(28.5), fy(358), "Enrichment (log<sub>2</sub> FC) of sgRNAs", xa="center", size=21, angle=-90)
note(fx(52.5), fy(352), "in GFP-low/presort", xa="center", size=21, angle=-90)
note(fx(403), fy(584), "Genomic coordinate (mm9)", xa="center", size=21)

# page header
note(fx(14), fy(0), "<b>Curvel_Fig2</b>", xa="left", size=27)
note(fx(14), fy(22), "<b>A</b>", xa="left", size=24)
note(fx(788), fy(-3), "bioRxiv preprint doi: <span style='color:#0000ee'>https://doi.org/10.1101/851956</span>; this version posted November 22, 2019. The copyright holder for this preprint (which",
     xa="center", size=21.4)
note(fx(788), fy(15), "was not certified by peer review) is the author/funder, who has granted bioRxiv a license to display the preprint in perpetuity. It is made",
     xa="center", size=21.4)
note(fx(785), fy(36), "available under a<span style='color:#0000ee'>CC-BY-NC-ND 4.0 International license</span>.",
     xa="center", size=21.4)
note(fx(775), fy(21), "<b>B</b>", xa="left", size=24)
note(fx(808), fy(17), "<b>List of candidate CREs of the <i>Oct4</i> gene</b>", xa="left", size=20)

# table
TL, TR = 798, 1558
for yy in [109, 166, 888.5]:
    shapes.append(dict(type="line", xref="paper", yref="paper", x0=fx(TL), x1=fx(TR),
                       y0=fy(yy), y1=fy(yy), line=dict(color="#333", width=1.6)))


def txt(x, y, s, anchor="left", size=21, bold=False):
    if bold:
        s = "<b>" + s + "</b>"
    note(fx(x), fy(y), s, xa=anchor, size=size)


txt(811, 45.5, "Based on mean enrichment scores (mean log2FC) of sgRNAs (in GFP-low/")
txt(811, 70, "pre-sort) per CRE. Each CREs have mean log2FC &gt;0.5, P&lt;0.0001.")
txt(811, 95, "Each sgRNA have off-target score &gt;10)")

txt(811, 135.5, "Candidate CREs", bold=True)
txt(1183, 135.5, "Genomic locations of REs<br>(mm9) (enriched sgRNAs)", anchor="center", bold=True)
txt(1402, 135.5, "Length<br>(bp)", anchor="center", bold=True)
txt(1504, 135.5, "No. of<br>sgRNAs", anchor="center", bold=True)

for i, (n, loc, ln, c) in enumerate(zip(cre_names, cre_locs, cre_lengths, cre_counts)):
    yy = 183 + i * 29.65
    txt(811, yy, n)
    txt(1186, yy, loc, anchor="center")
    txt(1398, yy, str(ln), anchor="center")
    txt(1499, yy, str(c), anchor="center")

for n, loc, ln, c, yy in zip(ctrl_names, ctrl_locs, ctrl_lengths, ctrl_counts, [672, 701.5, 731, 761]):
    txt(811, yy, n)
    txt(1186, yy, loc, anchor="center")
    txt(1398, yy, str(ln), anchor="center")
    txt(1499, yy - (3 if n.startswith("ControlCRE") else 0), str(c), anchor="center")

for n, loc, ln, c, yy, yn in zip(other_names, other_locs, other_lengths, other_counts, [803, 861], [813, 861]):
    txt(811, yn, n)
    txt(1191, yy + (4 if yy == 803 else 0), loc, anchor="center")
    txt(1398, yy, ln, anchor="center")
    txt(1499, yy, str(c), anchor="center")

txt(813, 908, "CRE_10 and CRE_12 are the known distal and proximal enhancers")
txt(813, 935, "CRE_13 consist TSS; CREs_13-16 present within the promoter of <i>Oct4</i>")

fig.update_layout(
    width=W, height=H, margin=dict(l=0, r=0, t=0, b=0, pad=0, autoexpand=False),
    paper_bgcolor="white", plot_bgcolor="white", showlegend=False,
    font=dict(family=FONT, size=21, color="black"),
    xaxis=dict(domain=[fx(100), fx(160)], range=[0, 60], anchor="y", showline=True,
               linecolor=BLACK, linewidth=1.5, showticklabels=False, ticks="", showgrid=False,
               zeroline=False, automargin=False),
    xaxis2=dict(domain=[fx(191), fx(733)], range=genomic_range, anchor="y", showline=True,
                linecolor=BLACK, linewidth=1.5, tickvals=xtick_vals,
                ticktext=[str(v) for v in xtick_vals], ticks="outside", ticklen=6,
                tickwidth=1.5, tickcolor=BLACK, showgrid=False, zeroline=False, automargin=False,
                tickfont=dict(size=21, family=FONT, color="black")),
    yaxis=dict(domain=[fy(532.7), fy(110.7)], range=[-6, 9], anchor="x", showline=True,
               linecolor=BLACK, linewidth=1.5, tickvals=ytick_vals,
               ticktext=[str(v) for v in ytick_vals], ticks="outside", ticklen=7,
               tickwidth=1.5, tickcolor=BLACK, showgrid=False, zeroline=False, automargin=False,
               tickfont=dict(size=21, family=FONT, color="black")),
    shapes=shapes, annotations=annotations,
)

fig.write_html("out.html")
